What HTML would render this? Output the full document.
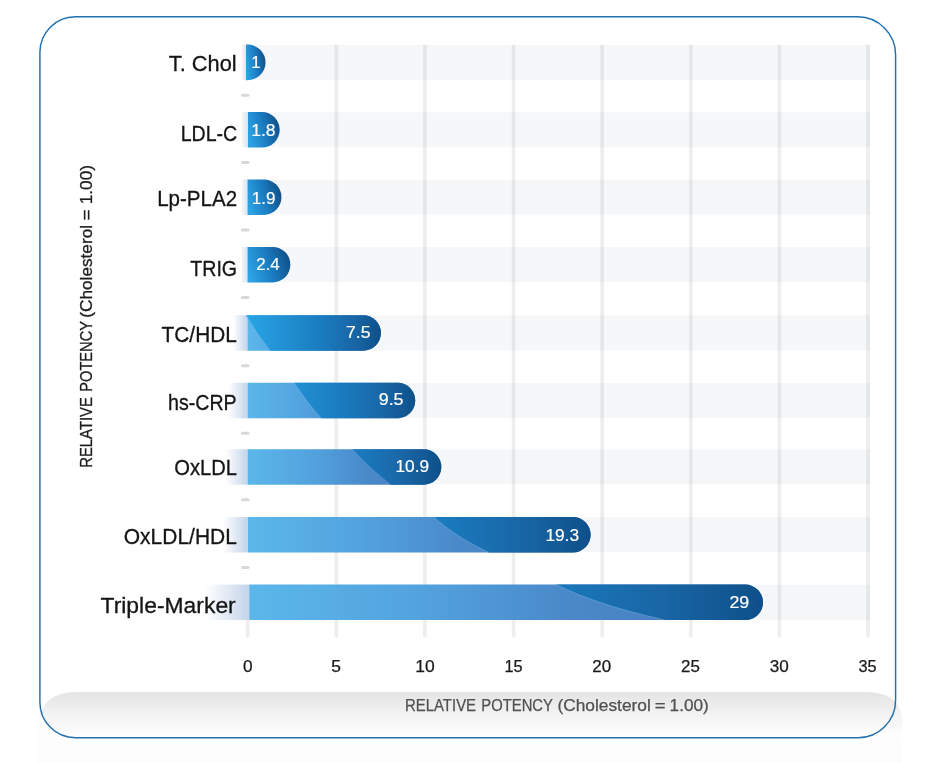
<!DOCTYPE html>
<html lang="en"><head><meta charset="utf-8"><title>Relative Potency</title>
<style>
html,body{margin:0;padding:0;background:#fff;}
body{width:928px;height:763px;overflow:hidden;}
svg{display:block;}
text{font-family:"Liberation Sans",sans-serif;}
</style></head><body>
<svg width="928" height="763" viewBox="0 0 928 763">
<defs>
<linearGradient id="gs" x1="0" y1="0.64" x2="1" y2="0.36"><stop offset="0" stop-color="#2da3e4"/><stop offset="0.5" stop-color="#1b7cc1"/><stop offset="1" stop-color="#0f4f88"/></linearGradient>
<linearGradient id="gsh" x1="0" y1="0" x2="1" y2="0"><stop offset="0" stop-color="#c3d4ea" stop-opacity="0"/><stop offset="1" stop-color="#c3d4ea" stop-opacity="1"/></linearGradient>
<linearGradient id="gf" x1="0" y1="0" x2="0" y2="1"><stop offset="0" stop-color="#e4e4e5"/><stop offset="0.5" stop-color="#f3f3f3"/><stop offset="1" stop-color="#ffffff"/></linearGradient>
<filter id="bl" x="-20%" y="-100%" width="140%" height="300%"><feGaussianBlur stdDeviation="0.5"/></filter>
</defs>
<rect width="928" height="763" fill="#ffffff"/>

<rect x="37" y="716" width="865" height="47" fill="#fdfdfd"/>
<path d="M39.9,702.2 V720 Q42,692 78,692 H866 Q902,692 902,722 V737.7 H75.4 A35.5,35.5 0 0 1 39.9,702.2 Z" fill="url(#gf)"/>
<rect x="242" y="44.8" width="628" height="35.1" fill="#f6f7f9"/>
<rect x="242" y="112.2" width="628" height="35.1" fill="#f6f7f9"/>
<rect x="242" y="179.6" width="628" height="35.1" fill="#f6f7f9"/>
<rect x="242" y="247.1" width="628" height="35.1" fill="#f6f7f9"/>
<rect x="242" y="315.3" width="628" height="35.1" fill="#f6f7f9"/>
<rect x="242" y="382.9" width="628" height="35.1" fill="#f6f7f9"/>
<rect x="242" y="449.3" width="628" height="35.1" fill="#f6f7f9"/>
<rect x="242" y="517.1" width="628" height="35.1" fill="#f6f7f9"/>
<rect x="242" y="584.8" width="628" height="35.1" fill="#f6f7f9"/>
<rect x="245.9" y="620" width="3.6" height="17.3" fill="#202026" fill-opacity="0.078"/>
<rect x="334.5" y="44.8" width="3.6" height="592.5" fill="#202026" fill-opacity="0.078"/>
<rect x="423.1" y="44.8" width="3.6" height="592.5" fill="#202026" fill-opacity="0.078"/>
<rect x="511.8" y="44.8" width="3.6" height="592.5" fill="#202026" fill-opacity="0.078"/>
<rect x="600.4" y="44.8" width="3.6" height="592.5" fill="#202026" fill-opacity="0.078"/>
<rect x="689.0" y="44.8" width="3.6" height="592.5" fill="#202026" fill-opacity="0.078"/>
<rect x="777.6" y="44.8" width="3.6" height="592.5" fill="#202026" fill-opacity="0.078"/>
<rect x="866.2" y="44.8" width="3.6" height="592.5" fill="#202026" fill-opacity="0.078"/>
<rect x="241" y="93.7" width="8.5" height="3" rx="1.5" fill="#d8d8d8" filter="url(#bl)"/>
<rect x="241" y="161.1" width="8.5" height="3" rx="1.5" fill="#d8d8d8" filter="url(#bl)"/>
<rect x="241" y="228.5" width="8.5" height="3" rx="1.5" fill="#d8d8d8" filter="url(#bl)"/>
<rect x="241" y="296.0" width="8.5" height="3" rx="1.5" fill="#d8d8d8" filter="url(#bl)"/>
<rect x="241" y="364.2" width="8.5" height="3" rx="1.5" fill="#d8d8d8" filter="url(#bl)"/>
<rect x="241" y="431.8" width="8.5" height="3" rx="1.5" fill="#d8d8d8" filter="url(#bl)"/>
<rect x="241" y="498.2" width="8.5" height="3" rx="1.5" fill="#d8d8d8" filter="url(#bl)"/>
<rect x="241" y="566.0" width="8.5" height="3" rx="1.5" fill="#d8d8d8" filter="url(#bl)"/>
<rect x="242.0" y="44.6" width="4.5" height="35.5" fill="url(#gsh)" opacity="0.6"/>
<path d="M246.0,44.6 H247.7 A17.75,17.75 0 0 1 247.7,80.2 H246.0 Z" fill="url(#gs)"/>
<rect x="242.0" y="112.0" width="6.5" height="35.5" fill="url(#gsh)" opacity="0.6"/>
<path d="M248,112.0 H261.9 A17.75,17.75 0 0 1 261.9,147.6 H248 Z" fill="url(#gs)"/>
<rect x="242.0" y="179.4" width="6.1" height="35.5" fill="url(#gsh)" opacity="0.6"/>
<path d="M247.6,179.4 H263.7 A17.75,17.75 0 0 1 263.7,214.9 H247.6 Z" fill="url(#gs)"/>
<rect x="241.0" y="246.9" width="7.1" height="35.5" fill="url(#gsh)" opacity="0.6"/>
<path d="M247.6,246.9 H272.6 A17.75,17.75 0 0 1 272.6,282.4 H247.6 Z" fill="url(#gs)"/>
<rect x="233.0" y="315.2" width="15.2" height="35.5" fill="url(#gsh)" opacity="1"/>
<linearGradient id="b4" gradientUnits="userSpaceOnUse" x1="247.7" y1="0" x2="381.0" y2="0"><stop offset="0" stop-color="#5bb7ea"/><stop offset="0.35" stop-color="#52a1dd"/><stop offset="0.62" stop-color="#4a89c9"/><stop offset="0.85" stop-color="#487fc0"/><stop offset="1" stop-color="#467cbd"/></linearGradient>
<linearGradient id="o4" gradientUnits="userSpaceOnUse" x1="247.7" y1="0" x2="381.0" y2="0"><stop offset="0" stop-color="#28a4e4"/><stop offset="0.55" stop-color="#1a7cc0"/><stop offset="0.8" stop-color="#1966a6"/><stop offset="1" stop-color="#0e5089"/></linearGradient>
<path d="M247.7,315.2 H363.2 A17.75,17.75 0 0 1 363.2,350.7 H247.7 Z" fill="url(#b4)"/>
<path d="M246,315.2 H363.2 A17.75,17.75 0 0 1 363.2,350.7 H270 Q257.0,334.3 246,315.2 Z" fill="url(#o4)"/>
<path d="M270,350.7 Q257.0,334.3 246,315.2" fill="none" stroke="#9fd0f2" stroke-opacity="0.45" stroke-width="0.7"/>
<rect x="228.0" y="382.8" width="20.3" height="35.5" fill="url(#gsh)" opacity="1"/>
<linearGradient id="b5" gradientUnits="userSpaceOnUse" x1="247.8" y1="0" x2="416.5" y2="0"><stop offset="0" stop-color="#5bb7ea"/><stop offset="0.35" stop-color="#52a1dd"/><stop offset="0.62" stop-color="#4a89c9"/><stop offset="0.85" stop-color="#487fc0"/><stop offset="1" stop-color="#467cbd"/></linearGradient>
<linearGradient id="o5" gradientUnits="userSpaceOnUse" x1="247.8" y1="0" x2="416.5" y2="0"><stop offset="0" stop-color="#28a4e4"/><stop offset="0.55" stop-color="#1a7cc0"/><stop offset="0.8" stop-color="#1966a6"/><stop offset="1" stop-color="#0e5089"/></linearGradient>
<path d="M247.8,382.8 H398.8 A17.75,17.75 0 0 1 398.8,418.2 H247.8 Z" fill="url(#b5)"/>
<path d="M294,382.8 H398.8 A17.75,17.75 0 0 1 398.8,418.2 H321 Q306.4,401.9 294,382.8 Z" fill="url(#o5)"/>
<path d="M321,418.2 Q306.4,401.9 294,382.8" fill="none" stroke="#9fd0f2" stroke-opacity="0.45" stroke-width="0.7"/>
<rect x="225.4" y="449.2" width="22.9" height="35.5" fill="url(#gsh)" opacity="1"/>
<linearGradient id="b6" gradientUnits="userSpaceOnUse" x1="247.8" y1="0" x2="441.4" y2="0"><stop offset="0" stop-color="#5bb7ea"/><stop offset="0.35" stop-color="#52a1dd"/><stop offset="0.62" stop-color="#4a89c9"/><stop offset="0.85" stop-color="#487fc0"/><stop offset="1" stop-color="#467cbd"/></linearGradient>
<linearGradient id="o6" gradientUnits="userSpaceOnUse" x1="247.8" y1="0" x2="441.4" y2="0"><stop offset="0" stop-color="#28a4e4"/><stop offset="0.55" stop-color="#1a7cc0"/><stop offset="0.8" stop-color="#1966a6"/><stop offset="1" stop-color="#0e5089"/></linearGradient>
<path d="M247.8,449.2 H423.6 A17.75,17.75 0 0 1 423.6,484.7 H247.8 Z" fill="url(#b6)"/>
<path d="M352,449.2 H423.6 A17.75,17.75 0 0 1 423.6,484.7 H390.5 Q369.3,468.7 352,449.2 Z" fill="url(#o6)"/>
<path d="M390.5,484.7 Q369.3,468.7 352,449.2" fill="none" stroke="#9fd0f2" stroke-opacity="0.45" stroke-width="0.7"/>
<rect x="222.6" y="517.0" width="25.9" height="35.5" fill="url(#gsh)" opacity="1"/>
<linearGradient id="b7" gradientUnits="userSpaceOnUse" x1="248.0" y1="0" x2="590.7" y2="0"><stop offset="0" stop-color="#5bb7ea"/><stop offset="0.35" stop-color="#52a1dd"/><stop offset="0.62" stop-color="#4a89c9"/><stop offset="0.85" stop-color="#487fc0"/><stop offset="1" stop-color="#467cbd"/></linearGradient>
<linearGradient id="o7" gradientUnits="userSpaceOnUse" x1="248.0" y1="0" x2="590.7" y2="0"><stop offset="0" stop-color="#28a4e4"/><stop offset="0.55" stop-color="#1a7cc0"/><stop offset="0.8" stop-color="#1966a6"/><stop offset="1" stop-color="#0e5089"/></linearGradient>
<path d="M248.0,517.0 H572.9 A17.75,17.75 0 0 1 572.9,552.5 H248.0 Z" fill="url(#b7)"/>
<path d="M433.5,517.0 H572.9 A17.75,17.75 0 0 1 572.9,552.5 H488.8 Q456.7,537.5 433.5,517.0 Z" fill="url(#o7)"/>
<path d="M488.8,552.5 Q456.7,537.5 433.5,517.0" fill="none" stroke="#9fd0f2" stroke-opacity="0.45" stroke-width="0.7"/>
<rect x="205.0" y="584.6" width="44.9" height="35.5" fill="url(#gsh)" opacity="1"/>
<linearGradient id="b8" gradientUnits="userSpaceOnUse" x1="249.4" y1="0" x2="763.0" y2="0"><stop offset="0" stop-color="#5bb7ea"/><stop offset="0.35" stop-color="#52a1dd"/><stop offset="0.62" stop-color="#4a89c9"/><stop offset="0.85" stop-color="#487fc0"/><stop offset="1" stop-color="#467cbd"/></linearGradient>
<linearGradient id="o8" gradientUnits="userSpaceOnUse" x1="249.4" y1="0" x2="763.0" y2="0"><stop offset="0" stop-color="#28a4e4"/><stop offset="0.55" stop-color="#1a7cc0"/><stop offset="0.8" stop-color="#1966a6"/><stop offset="1" stop-color="#0e5089"/></linearGradient>
<path d="M249.4,584.6 H745.3 A17.75,17.75 0 0 1 745.3,620.1 H249.4 Z" fill="url(#b8)"/>
<path d="M555.8,584.6 H745.3 A17.75,17.75 0 0 1 745.3,620.1 H665 Q599.5,605.9 555.8,584.6 Z" fill="url(#o8)"/>
<path d="M665,620.1 Q599.5,605.9 555.8,584.6" fill="none" stroke="#9fd0f2" stroke-opacity="0.45" stroke-width="0.7"/>
<path d="M75.4,16.8 H857.6 A38,38 0 0 1 895.6,54.8 V700.2 A37.5,37.5 0 0 1 858.1,737.7 H75.4 A35.5,35.5 0 0 1 39.9,702.2 V52.3 A35.5,35.5 0 0 1 75.4,16.8 Z" fill="none" stroke="#2370ae" stroke-width="1.45"/>
<text x="168.80" y="71.2" font-size="22" textLength="67.80" lengthAdjust="spacingAndGlyphs" fill="#141414" stroke="#141414" stroke-width="0.3">T. Chol</text>
<text x="180.65" y="140.6" font-size="22" textLength="56.58" lengthAdjust="spacingAndGlyphs" fill="#141414" stroke="#141414" stroke-width="0.3">LDL-C</text>
<text x="157.20" y="205.8" font-size="22" textLength="79.93" lengthAdjust="spacingAndGlyphs" fill="#141414" stroke="#141414" stroke-width="0.3">Lp-PLA2</text>
<text x="190.30" y="275.5" font-size="22" textLength="46.82" lengthAdjust="spacingAndGlyphs" fill="#141414" stroke="#141414" stroke-width="0.3">TRIG</text>
<text x="161.60" y="342.2" font-size="22" textLength="75.21" lengthAdjust="spacingAndGlyphs" fill="#141414" stroke="#141414" stroke-width="0.3">TC/HDL</text>
<text x="168.05" y="410.0" font-size="22" textLength="68.57" lengthAdjust="spacingAndGlyphs" fill="#141414" stroke="#141414" stroke-width="0.3">hs-CRP</text>
<text x="174.25" y="475.2" font-size="22" textLength="62.78" lengthAdjust="spacingAndGlyphs" fill="#141414" stroke="#141414" stroke-width="0.3">OxLDL</text>
<text x="123.80" y="543.9" font-size="22" textLength="113.07" lengthAdjust="spacingAndGlyphs" fill="#141414" stroke="#141414" stroke-width="0.3">OxLDL/HDL</text>
<text x="100.50" y="612.5" font-size="22" textLength="135.25" lengthAdjust="spacingAndGlyphs" fill="#141414" stroke="#141414" stroke-width="0.3">Triple-Marker</text>
<text x="251.20" y="68.0" font-size="17" textLength="9.22" lengthAdjust="spacingAndGlyphs" fill="#ffffff" stroke="#ffffff" stroke-width="0.2">1</text>
<text x="251.20" y="135.9" font-size="17" textLength="24.30" lengthAdjust="spacingAndGlyphs" fill="#ffffff" stroke="#ffffff" stroke-width="0.2">1.8</text>
<text x="251.75" y="203.5" font-size="17" textLength="23.74" lengthAdjust="spacingAndGlyphs" fill="#ffffff" stroke="#ffffff" stroke-width="0.2">1.9</text>
<text x="256.25" y="270.2" font-size="17" textLength="23.51" lengthAdjust="spacingAndGlyphs" fill="#ffffff" stroke="#ffffff" stroke-width="0.2">2.4</text>
<text x="346.10" y="337.9" font-size="17" textLength="24.44" lengthAdjust="spacingAndGlyphs" fill="#ffffff" stroke="#ffffff" stroke-width="0.2">7.5</text>
<text x="378.70" y="405.1" font-size="17" textLength="24.88" lengthAdjust="spacingAndGlyphs" fill="#ffffff" stroke="#ffffff" stroke-width="0.2">9.5</text>
<text x="395.55" y="471.6" font-size="17" textLength="33.51" lengthAdjust="spacingAndGlyphs" fill="#ffffff" stroke="#ffffff" stroke-width="0.2">10.9</text>
<text x="545.40" y="540.9" font-size="17" textLength="33.66" lengthAdjust="spacingAndGlyphs" fill="#ffffff" stroke="#ffffff" stroke-width="0.2">19.3</text>
<text x="729.40" y="608.1" font-size="17" textLength="19.81" lengthAdjust="spacingAndGlyphs" fill="#ffffff" stroke="#ffffff" stroke-width="0.2">29</text>
<text x="243.00" y="671.8" font-size="16.2" textLength="9.60" lengthAdjust="spacingAndGlyphs" fill="#1a1a1a" stroke="#1a1a1a" stroke-width="0.25">0</text>
<text x="331.25" y="671.8" font-size="16.2" textLength="9.69" lengthAdjust="spacingAndGlyphs" fill="#1a1a1a" stroke="#1a1a1a" stroke-width="0.25">5</text>
<text x="415.25" y="671.8" font-size="16.2" textLength="19.42" lengthAdjust="spacingAndGlyphs" fill="#1a1a1a" stroke="#1a1a1a" stroke-width="0.25">10</text>
<text x="504.50" y="671.8" font-size="16.2" textLength="18.15" lengthAdjust="spacingAndGlyphs" fill="#1a1a1a" stroke="#1a1a1a" stroke-width="0.25">15</text>
<text x="592.25" y="671.8" font-size="16.2" textLength="18.85" lengthAdjust="spacingAndGlyphs" fill="#1a1a1a" stroke="#1a1a1a" stroke-width="0.25">20</text>
<text x="681.00" y="671.8" font-size="16.2" textLength="18.83" lengthAdjust="spacingAndGlyphs" fill="#1a1a1a" stroke="#1a1a1a" stroke-width="0.25">25</text>
<text x="769.75" y="671.8" font-size="16.2" textLength="19.06" lengthAdjust="spacingAndGlyphs" fill="#1a1a1a" stroke="#1a1a1a" stroke-width="0.25">30</text>
<text x="858.50" y="671.8" font-size="16.2" textLength="18.06" lengthAdjust="spacingAndGlyphs" fill="#1a1a1a" stroke="#1a1a1a" stroke-width="0.25">35</text>
<text y="711" font-size="16.4" fill="#505050" stroke="#505050" stroke-width="0.25"><tspan x="405.00" textLength="71.03" lengthAdjust="spacingAndGlyphs">RELATIVE</tspan> <tspan x="481.35" textLength="71.32" lengthAdjust="spacingAndGlyphs">POTENCY</tspan> <tspan x="557.45" textLength="93.39" lengthAdjust="spacingAndGlyphs">(Cholesterol</tspan> <tspan x="654.75" textLength="10.82" lengthAdjust="spacingAndGlyphs">=</tspan> <tspan x="669.55" textLength="39.26" lengthAdjust="spacingAndGlyphs">1.00)</tspan></text>
<text transform="translate(92.2,467.3) rotate(-90)" font-size="17" fill="#1c1c1c" stroke="#1c1c1c" stroke-width="0.3"><tspan x="-0.50" textLength="70.70" lengthAdjust="spacingAndGlyphs">RELATIVE</tspan> <tspan x="75.65" textLength="70.32" lengthAdjust="spacingAndGlyphs">POTENCY</tspan> <tspan x="149.60" textLength="92.74" lengthAdjust="spacingAndGlyphs">(Cholesterol</tspan> <tspan x="246.85" textLength="10.96" lengthAdjust="spacingAndGlyphs">=</tspan> <tspan x="263.05" textLength="39.27" lengthAdjust="spacingAndGlyphs">1.00)</tspan></text>
</svg></body></html>
